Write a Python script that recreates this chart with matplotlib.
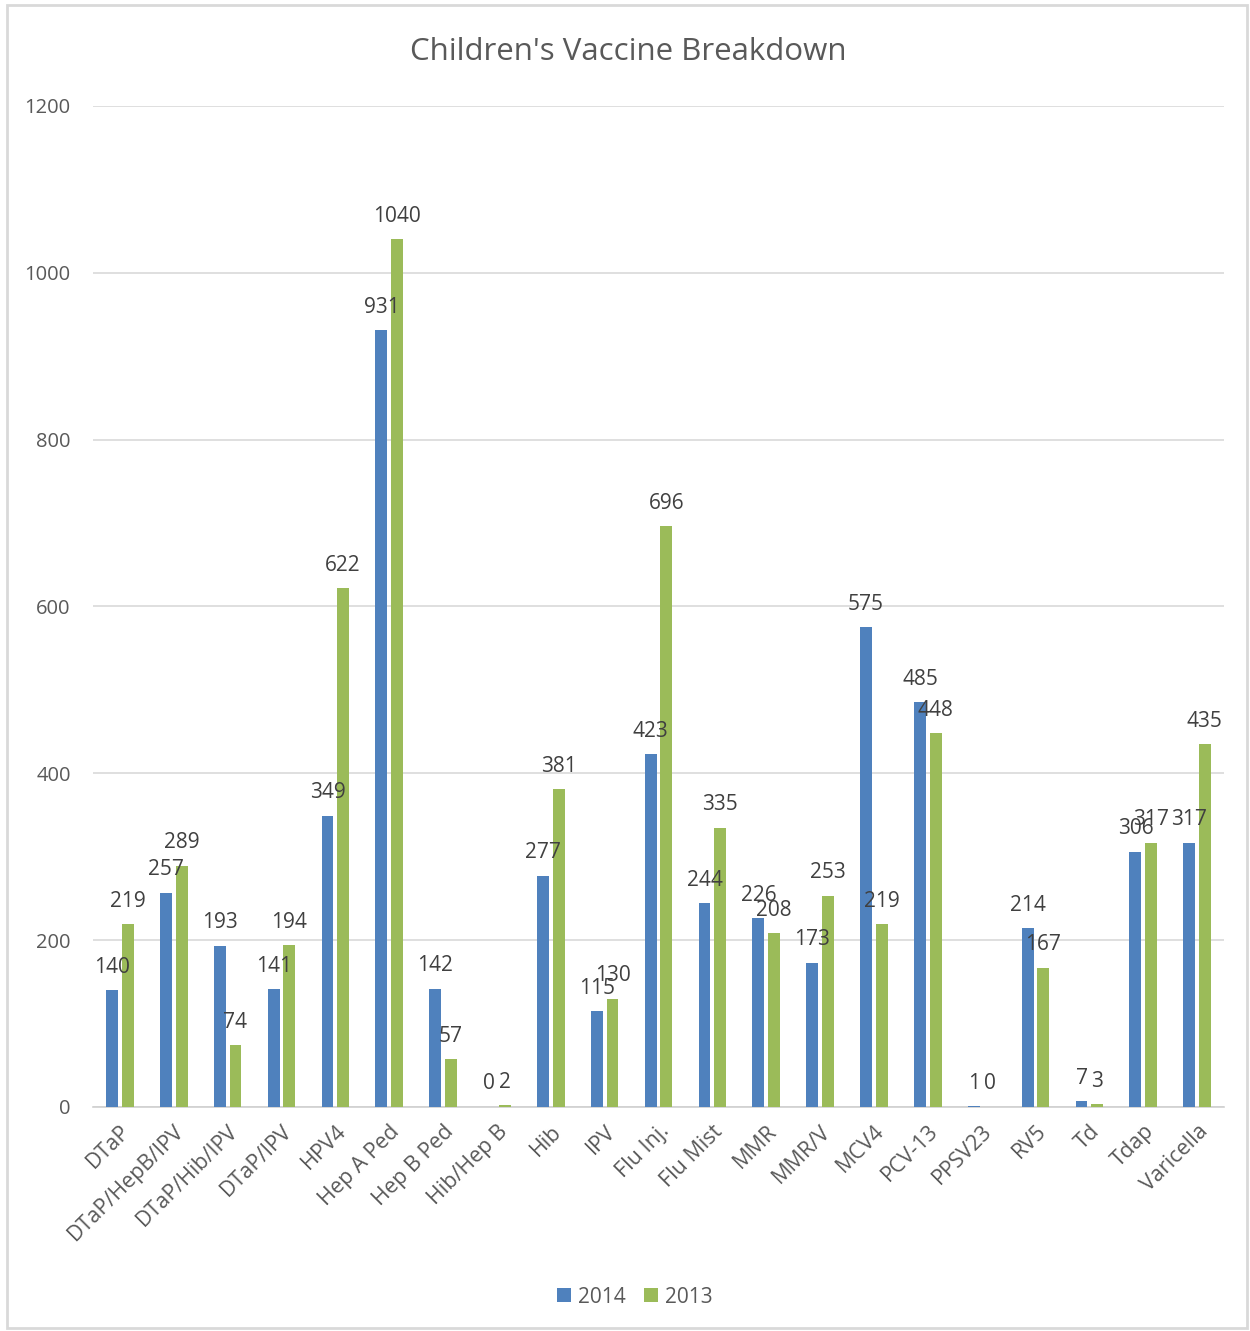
import numpy as np
import matplotlib
matplotlib.use("Agg")
import matplotlib.pyplot as plt
from matplotlib.patches import Rectangle

plt.rcParams['font.family'] = ['Open Sans', 'DejaVu Sans']

vaccines = ['DTaP', 'DTaP/HepB/IPV', 'DTaP/Hib/IPV', 'DTaP/IPV', 'HPV4', 'Hep A Ped',
            'Hep B Ped', 'Hib/Hep B', 'Hib', 'IPV', 'Flu Inj.', 'Flu Mist', 'MMR',
            'MMR/V', 'MCV4', 'PCV-13', 'PPSV23', 'RV5', 'Td', 'Tdap', 'Varicella']
doses_2014 = [140, 257, 193, 141, 349, 931, 142, 0, 277, 115, 423, 244, 226,
              173, 575, 485, 1, 214, 7, 306, 317]
doses_2013 = [219, 289, 74, 194, 622, 1040, 57, 2, 381, 130, 696, 335, 208,
              253, 219, 448, 0, 167, 3, 317, 435]
yticks = [0, 200, 400, 600, 800, 1000, 1200]

blue = '#4F81BD'
green = '#9BBB59'
grey_text = '#595959'

fig = plt.figure(figsize=(12.5, 13.31), dpi=100)
ax = fig.add_axes([0.0744, 0.1683, 0.9048, 0.7521])

x = np.arange(len(vaccines))
w = 0.22
off = 0.145
b1 = ax.bar(x - off, doses_2014, w, color=blue, label='2014', zorder=3)
b2 = ax.bar(x + off, doses_2013, w, color=green, label='2013', zorder=3)

# value labels centred above each bar
for bars, vals in ((b1, doses_2014), (b2, doses_2013)):
    for rect, v in zip(bars, vals):
        ax.annotate(str(v), (rect.get_x() + rect.get_width() / 2, v),
                    xytext=(0, 9), textcoords='offset points',
                    ha='center', va='bottom', fontsize=15, color='#404040', zorder=4)

ax.set_xlim(-0.5, len(vaccines) - 0.5)
ax.set_ylim(0, 1200)
ax.set_yticks(yticks)
ax.set_yticklabels([str(t) for t in yticks], fontsize=14.5, color=grey_text)
ax.set_xticks(x)
ax.set_xticklabels(vaccines, rotation=45, ha='right', va='top',
                   rotation_mode='anchor', fontsize=15.5, color=grey_text)
ax.tick_params(axis='both', length=0)
ax.tick_params(axis='y', pad=16)
ax.tick_params(axis='x', pad=10)
ax.grid(axis='y', color='#d9d9d9', lw=1.2, zorder=0)
for s in ('top', 'right', 'left'):
    ax.spines[s].set_visible(False)
ax.spines['bottom'].set_color('#d0d0d0')
ax.spines['bottom'].set_linewidth(1.2)

fig.text(0.503, 0.961, "Children's Vaccine Breakdown", ha='center', va='center',
         fontsize=22.5, color=grey_text)

fig.legend(handles=[b1, b2], loc='center', bbox_to_anchor=(0.508, 0.0255),
           ncol=2, frameon=False, fontsize=15, handlelength=0.65, handleheight=0.65,
           handletextpad=0.35, columnspacing=0.9, labelcolor=grey_text)

# light chart border
fig.patches.append(Rectangle((7 / 1250, 3 / 1331), 1240 / 1250, 1323 / 1331,
                             transform=fig.transFigure, fill=False,
                             edgecolor='#d9d9d9', lw=2))

fig.savefig('out.png', dpi=100, facecolor='white')
